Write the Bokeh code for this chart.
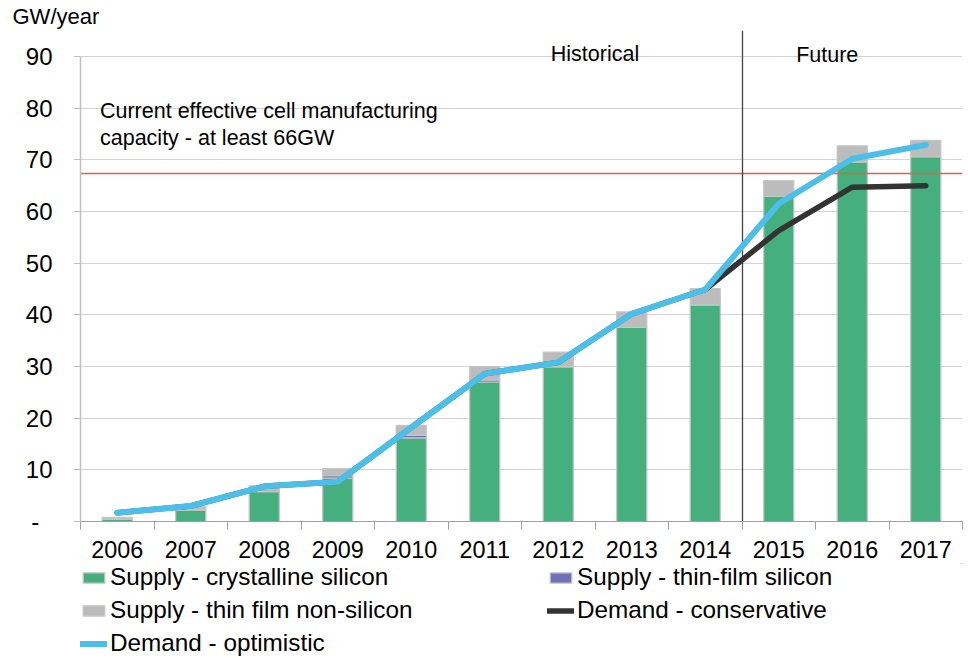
from bokeh.plotting import figure
from bokeh.layouts import column
from bokeh.models import ColumnDataSource, FixedTicker, Range1d, Legend, LegendItem
from bokeh.core.properties import value
from bokeh.embed import file_html
from bokeh.resources import INLINE

# ---------------- data ----------------
years = ["2006", "2007", "2008", "2009", "2010", "2011",
         "2012", "2013", "2014", "2015", "2016", "2017"]
supply_c_si = [0.4, 2.2, 5.8, 8.4, 16.2, 27.0, 29.9, 37.6, 41.9, 62.9, 69.6, 70.6]
supply_tf_si = [0.05, 0.1, 0.3, 0.45, 0.45, 0.4, 0.1, 0.0, 0.0, 0.0, 0.0, 0.0]
supply_tf_non_si = [0.35, 0.6, 0.8, 1.4, 1.95, 2.6, 2.8, 3.0, 3.2, 3.1, 3.1, 3.15]
demand_conservative = [1.7, 3.0, 6.8, 7.7, 18.2, 28.6, 30.8, 40.2, 44.9, 56.3, 64.7, 65.0]
demand_optimistic = [1.7, 3.0, 6.8, 7.7, 18.2, 28.6, 30.8, 40.2, 44.9, 61.5, 70.2, 72.9]
capacity_gw = 67.3
first_future_year = "2015"
y_ticks = [0, 10, 20, 30, 40, 50, 60, 70, 80, 90]

labels = ["Supply - crystalline silicon", "Supply - thin-film silicon",
          "Supply - thin film non-silicon", "Demand - conservative",
          "Demand - optimistic"]

# ---------------- styles ----------------
FONT = "Liberation Sans"
GREEN = "#45af7e"
PURPLE = "#7072b8"
GREY = "#bdbcbc"
BLUE = "#4bbfe7"
DARK = "#333333"
RED = "#e8575a"
BAR_LINE = "#c6c6c6"

n = len(years)
xs = [i + 0.5 for i in range(n)]
src = ColumnDataSource(dict(x=xs, c_si=supply_c_si, tf_si=supply_tf_si,
                            tf_non=supply_tf_non_si, cons=demand_conservative,
                            opt=demand_optimistic))

p = figure(frame_width=882, frame_height=491, output_backend="svg", toolbar_location=None,
           x_range=Range1d(0, n), y_range=Range1d(0, 95.03),
           min_border_left=80, min_border_right=6, min_border_top=0,
           min_border_bottom=42, title="GW/year")
p.outline_line_color = None
p.background_fill_color = "white"
p.border_fill_color = "white"

p.title.text_font = FONT
p.title.text_font_size = "22px"
p.title.text_font_style = "normal"
p.title.text_color = "#000000"
p.title.align = "left"
p.title.offset = -68
p.title.standoff = 3

# grid
p.xgrid.visible = False
p.ygrid.ticker = FixedTicker(ticks=y_ticks)
p.ygrid.grid_line_color = "#a8a8a8"
p.ygrid.grid_line_dash = "1 1"
p.ygrid.grid_line_width = 1

# x axis
xa = p.xaxis[0]
xa.ticker = FixedTicker(ticks=xs, minor_ticks=list(range(n + 1)))
xa.major_label_overrides = {x: y for x, y in zip(xs, years)}
xa.major_tick_out = 0
xa.major_tick_in = 0
xa.minor_tick_out = 8
xa.minor_tick_in = 0
xa.minor_tick_line_color = "#a0a0a0"
xa.axis_line_color = "#a0a0a0"
xa.major_label_standoff = 11
xa.major_label_text_font = FONT
xa.major_label_text_font_size = "23.4px"
xa.major_label_text_color = "#000000"

# y axis
ya = p.yaxis[0]
ya.ticker = FixedTicker(ticks=y_ticks)
ya.bounds = (0, 90)
ya.major_label_overrides = {0: "-\u00a0\u00a0"}
ya.axis_line_color = "#c0c0c0"
ya.axis_line_width = 1.5
ya.major_tick_out = 7
ya.major_tick_in = 0
ya.major_tick_line_color = "#c0c0c0"
ya.minor_tick_line_color = None
ya.major_label_standoff = 21
ya.major_label_text_font = FONT
ya.major_label_text_font_size = "24px"
ya.major_label_text_color = "#000000"

# bars
stack = ["c_si", "tf_si", "tf_non"]
bars = p.vbar_stack(stack, x="x", width=0.41, source=src,
                    fill_color=[GREEN, PURPLE, GREY], line_color=BAR_LINE,
                    line_width=1.2)

# capacity line and historical/future divider
p.hspan(y=[capacity_gw], line_color=RED, line_width=1.3)
p.vspan(x=[years.index(first_future_year)], line_color="#444444", line_width=1.3)

# demand lines
r_cons = p.line("x", "cons", source=src, line_color=DARK, line_width=5.5,
                line_cap="round", line_join="round")
r_opt = p.line("x", "opt", source=src, line_color=BLUE, line_width=6,
               line_cap="round", line_join="round")

# annotations
tf = value(FONT)
p.text(x=[7.0], y=[90.5], text=["Historical"], text_align="center",
       text_baseline="middle", text_font=tf, text_font_size="21.5px", text_color="#000000")
p.text(x=[10.16], y=[90.2], text=["Future"], text_align="center",
       text_baseline="middle", text_font=tf, text_font_size="21.5px", text_color="#000000")
p.text(x=[0.265], y=[79.4], text=["Current effective cell manufacturing"], text_align="left",
       text_baseline="middle", text_font=tf, text_font_size="21.5px", text_color="#000000")
p.text(x=[0.265], y=[74.2], text=["capacity - at least 66GW"], text_align="left",
       text_baseline="middle", text_font=tf, text_font_size="21.5px", text_color="#000000")

# ---------------- legend strip ----------------
# same series, drawn in a strip whose visible range holds no data, so only the legend shows
lg = figure(width=968, height=95, output_backend="svg", toolbar_location=None,
            x_range=Range1d(-100, -99), y_range=Range1d(-100, -99),
            x_axis_type=None, y_axis_type=None,
            min_border_left=80, min_border_right=0, min_border_top=0, min_border_bottom=0)
lg.outline_line_color = None
lg.xgrid.visible = False
lg.ygrid.visible = False
lg.background_fill_color = "white"
lg.border_fill_color = "white"

k_bars = lg.vbar_stack(stack, x="x", width=0.41, source=src,
                       fill_color=[GREEN, PURPLE, GREY], line_color=BAR_LINE,
                       line_width=1.2)
k_cons = lg.line("x", "cons", source=src, line_color=DARK, line_width=5.5, line_cap="round")
k_opt = lg.line("x", "opt", source=src, line_color=BLUE, line_width=6, line_cap="round")

legend = Legend(items=[LegendItem(label=labels[0], renderers=[k_bars[0]]),
                       LegendItem(label=labels[2], renderers=[k_bars[2]]),
                       LegendItem(label=labels[4], renderers=[k_opt]),
                       LegendItem(label=labels[1], renderers=[k_bars[1]]),
                       LegendItem(label=labels[3], renderers=[k_cons])],
                ncols=2, location="top_left", margin=0, padding=0,
                border_line_color=None, background_fill_alpha=0,
                glyph_width=27, glyph_height=13, label_standoff=3,
                label_width=432, label_height=24, spacing=5,
                label_text_font=FONT, label_text_font_size="24.3px",
                label_text_color="#000000")
lg.add_layout(legend)

layout = column(p, lg, spacing=0)
open("out.html", "w").write(file_html(layout, INLINE))
